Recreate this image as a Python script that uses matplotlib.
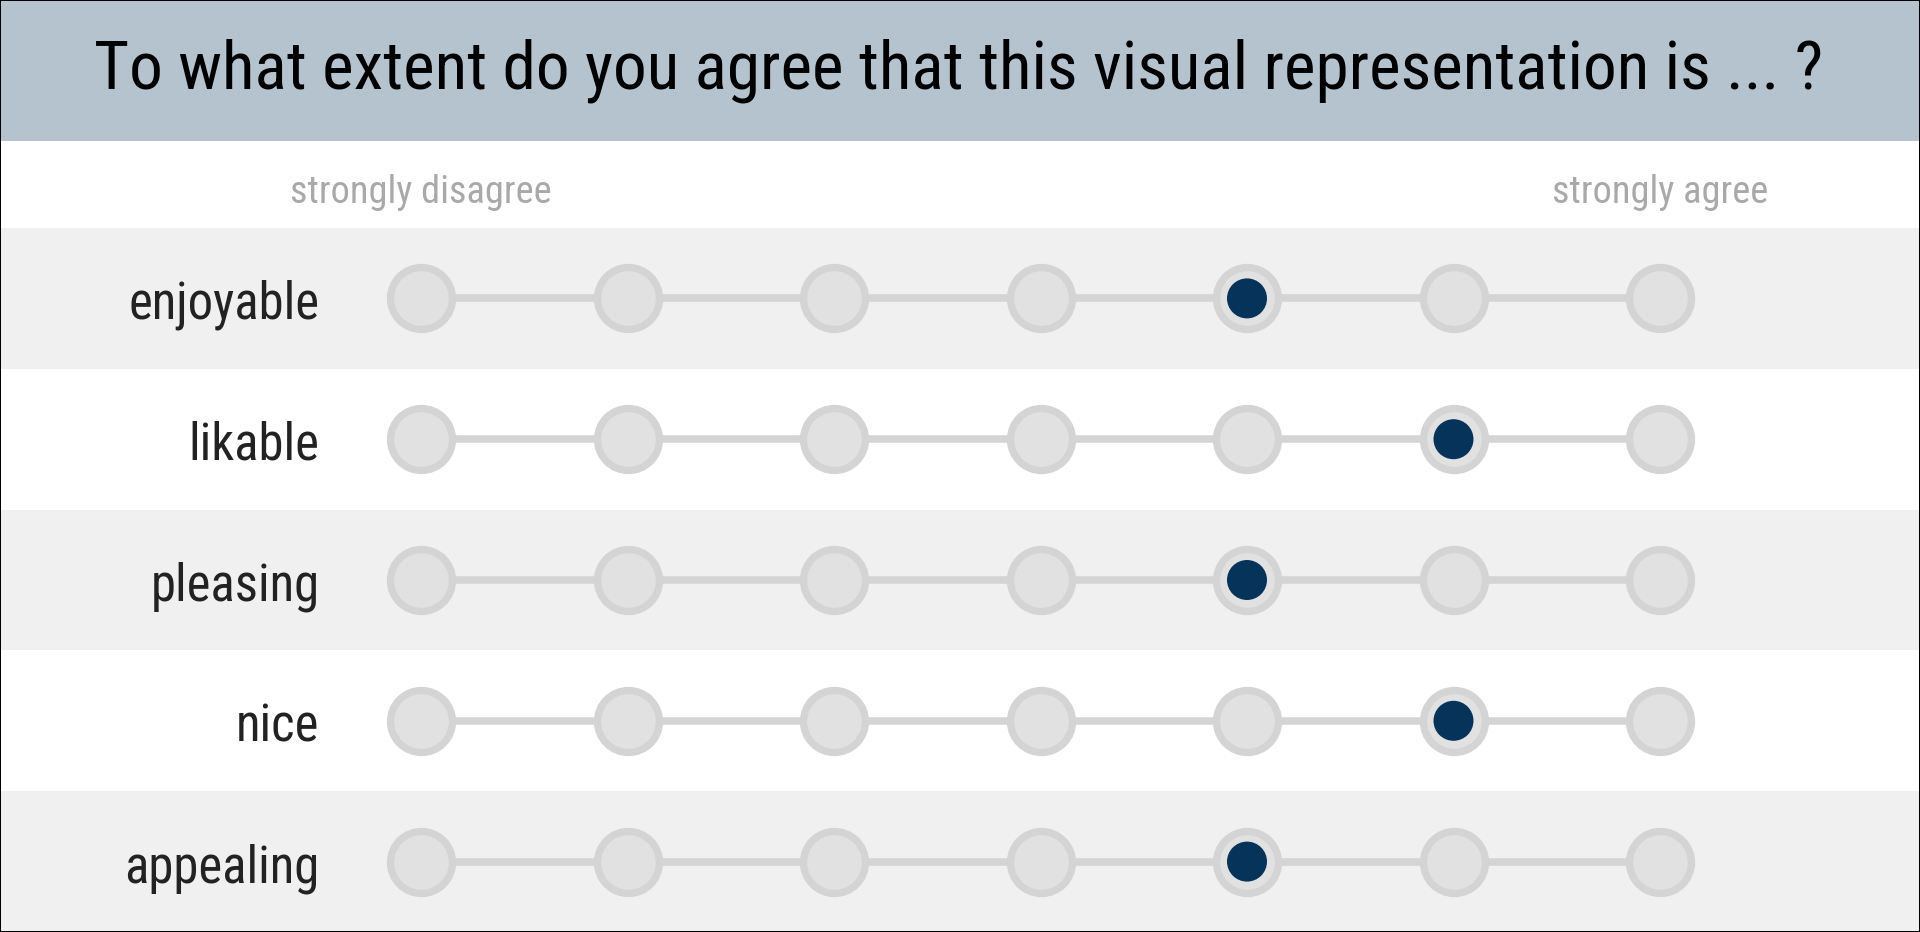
import matplotlib
matplotlib.use("Agg")
import matplotlib.pyplot as plt
from matplotlib import font_manager
from matplotlib.patches import Rectangle
from matplotlib.transforms import blended_transform_factory

# ---------------- data ----------------
title = "To what extent do you agree that this visual representation is ... ?"
items = ["enjoyable", "likable", "pleasing", "nice", "appealing"]
ratings = [5, 6, 5, 6, 5]          # 1 = strongly disagree ... 7 = strongly agree
scale_points = [1, 2, 3, 4, 5, 6, 7]
low_label = "strongly disagree"
high_label = "strongly agree"

# ---------------- font ----------------
def pick_font(cands):
    for c in cands:
        try:
            font_manager.findfont(font_manager.FontProperties(family=c),
                                  fallback_to_default=False)
            return c
        except Exception:
            pass
    return "DejaVu Sans"

FONT = pick_font(["Roboto Condensed", "Liberation Sans Narrow", "Roboto"])
plt.rcParams["font.family"] = [FONT, "DejaVu Sans"]

W, H, DPI = 1920, 932, 100
fig = plt.figure(figsize=(W / DPI, H / DPI), dpi=DPI)
fig.patch.set_facecolor("white")

PX = 72.0 / DPI  # points per pixel

# header band
header_h = 141
fig.patches.append(Rectangle((0, 1 - header_h / H), 1, header_h / H,
                             transform=fig.transFigure, facecolor="#b5c3ce",
                             edgecolor="none", zorder=0))
fig.text(0.499, 1 - 88.5 / H, title, ha="center", va="baseline",
         fontsize=67.3 * PX, color="#000000")

# rating area axes
top_px = 228
ax = fig.add_axes([0, 0, 1, (H - top_px) / H])
n = len(items)
ax.set_ylim(n - 0.5, -0.5)
x_first_px, dx_px = 421, 206.5
ax.set_xlim(1 - x_first_px / dx_px, 1 + (W - x_first_px) / dx_px)
ax.axis("off")

for r in range(n):
    ax.axhspan(r - 0.5, r + 0.5, color="#f0f0f0" if r % 2 == 0 else "#ffffff",
               zorder=0, lw=0)

ring_d = 62 * PX
dot_d = 40 * PX
for r, (item, val) in enumerate(zip(items, ratings)):
    ax.plot([scale_points[0], scale_points[-1]], [r, r], color="#d4d4d4",
            lw=7.5 * PX, zorder=1, solid_capstyle="butt")
    ax.scatter(scale_points, [r] * len(scale_points), s=ring_d ** 2,
               facecolor="#e1e1e1", edgecolor="#d4d4d4", linewidths=7.3 * PX,
               zorder=2)
    ax.scatter([val], [r], s=dot_d ** 2, facecolor="#06335a",
               edgecolor="none", zorder=3)
    ax.text(1 + (319.5 - x_first_px) / dx_px, r + 20.5 / 140.8, item,
            ha="right", va="baseline", fontsize=50.7 * PX, color="#222222")

# anchor labels
bt = blended_transform_factory(ax.transData, fig.transFigure)
fig.text(scale_points[0], 1 - 203 / H, low_label, transform=bt, ha="center",
         va="baseline", fontsize=38.4 * PX, color="#a9a9a9")
fig.text(scale_points[-1], 1 - 203 / H, high_label, transform=bt, ha="center",
         va="baseline", fontsize=38.4 * PX, color="#a9a9a9")

# outer border
fig.patches.append(Rectangle((0, 0), 1, 1, transform=fig.transFigure,
                             facecolor="none", edgecolor="#000000",
                             lw=2 * PX, zorder=10))

fig.savefig("out.png", dpi=DPI)
